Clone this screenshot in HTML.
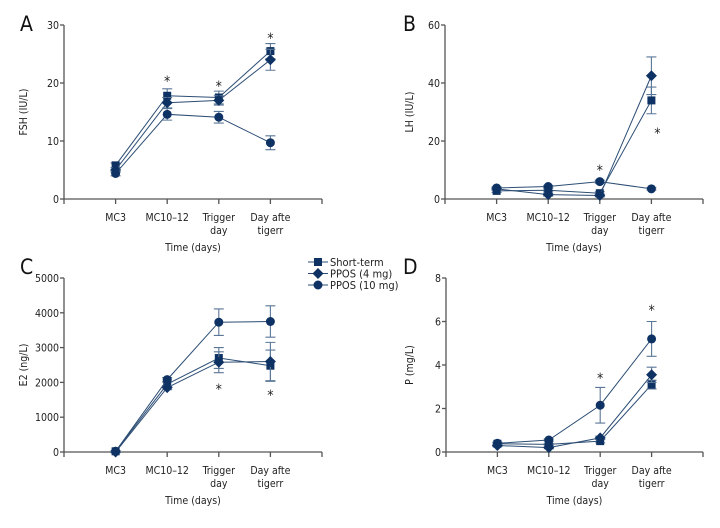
<!DOCTYPE html>
<html><head><meta charset="utf-8"><style>
html,body{margin:0;padding:0;background:#fff;}
svg{display:block;font-family:"Liberation Sans Narrow","DejaVu Sans Condensed","Liberation Sans",sans-serif;}
</style></head><body>
<svg id="fig" width="720" height="528" viewBox="0 0 720 528" xmlns="http://www.w3.org/2000/svg"></svg>
<script>
const categories = ["MC3", "MC10\u201312", "Trigger|day", "Day afte|tigerr"];
const seriesNames = ["Short-term", "PPOS (4 mg)", "PPOS (10 mg)"];
const fshShort = [5.8, 17.8, 17.5, 25.5];
const fshShortErr = [0.4, 1.2, 1.1, 1.3];
const fsh4 = [5.0, 16.6, 17.0, 24.0];
const fsh4Err = [0.4, 0.9, 0.8, 1.8];
const fsh10 = [4.4, 14.6, 14.1, 9.7];
const fsh10Err = [0.4, 1.0, 1.0, 1.2];
const fshStars = [null, 20.9, 20.0, 28.3];
const lhShort = [2.8, 3.0, 2.0, 34.0];
const lhShortErr = [0.5, 0.5, 0.5, 4.6];
const lh4 = [3.5, 1.5, 1.2, 42.5];
const lh4Err = [0.5, 0.5, 0.5, 6.5];
const lh10 = [3.8, 4.3, 6.0, 3.5];
const lh10Err = [0.4, 0.4, 0.5, 0.4];
const lhStars = [null, null, 11.0, 23.8];
const e2Short = [20, 1950, 2700, 2480];
const e2ShortErr = [20, 60, 300, 450];
const e24 = [0, 1850, 2580, 2600];
const e24Err = [20, 60, 300, 550];
const e210 = [20, 2080, 3730, 3750];
const e210Err = [20, 60, 380, 450];
const e2Stars = [null, null, 1900, 1730];
const pShort = [0.38, 0.35, 0.5, 3.1];
const pShortErr = [0.05, 0.05, 0.08, 0.2];
const p4 = [0.3, 0.2, 0.65, 3.55];
const p4Err = [0.05, 0.05, 0.08, 0.35];
const p10 = [0.4, 0.55, 2.15, 5.2];
const p10Err = [0.05, 0.05, 0.82, 0.8];
const pStars = [null, null, 3.55, 6.67];
const fshTicks = [0, 10, 20, 30];
const lhTicks = [0, 20, 40, 60];
const e2Ticks = [0, 1000, 2000, 3000, 4000, 5000];
const pTicks = [0, 2, 4, 6, 8];

const NS = "http://www.w3.org/2000/svg";
const svg = document.getElementById("fig");
const NAVY = "#0e3263", LINE = "#2c4d74", ERR = "#5b7797", AX = "#555";
function mk(tag, attrs, parent) {
  const e = document.createElementNS(NS, tag);
  for (const k in attrs) e.setAttribute(k, attrs[k]);
  (parent || svg).appendChild(e);
  return e;
}
function marker(g, shape, x, y, s) {
  if (shape === 0) return mk("rect", {x: x - s, y: y - s, width: 2 * s, height: 2 * s, fill: NAVY}, g);
  if (shape === 1) return mk("polygon", {points: `${x},${y - s - 1.5} ${x + s + 1.5},${y} ${x},${y + s + 1.5} ${x - s - 1.5},${y}`, fill: NAVY}, g);
  return mk("circle", {cx: x, cy: y, r: s + 0.5, fill: NAVY}, g);
}
function panel(p) {
  const g = mk("g", {});
  
  
  const ymax = p.ticks[p.ticks.length - 1];
  const xS = i => p.x0 + (i + 1) * (p.x1 - p.x0) / 5;
  const yS = v => p.y0 - v / ymax * (p.y0 - p.yTop);
  const L = mk("text", {x: p.lx, y: p.ly, "font-size": 21, fill: "#111"}, g);
  L.textContent = p.letter;
  
  
  const ax = mk("g", {stroke: AX, "stroke-width": 1.3}, g);
  
  
  mk("line", {x1: p.x0, y1: p.y0, x2: p.x0, y2: p.yTop}, ax);
  mk("line", {x1: p.x0, y1: p.y0, x2: p.x1, y2: p.y0}, ax);
  for (let i = 0; i <= 5; i++) { const x = p.x0 + i * (p.x1 - p.x0) / 5; mk("line", {x1: x, y1: p.y0, x2: x, y2: p.y0 + 5}, ax); }
  p.ticks.forEach(t => {
    const y = yS(t);
    mk("line", {x1: p.x0 - 4, y1: y, x2: p.x0, y2: y}, ax);
    const tx = mk("text", {x: p.x0 - 5, y: y + 4, "font-size": 10.5, "text-anchor": "end", fill: "#222"}, g);
    tx.textContent = t;
    
    
  });
  categories.forEach((c, i) => {
    const parts = c.split("|");
    parts.forEach((s, j) => {
      const tx = mk("text", {x: xS(i), y: p.y0 + 22 + j * 13, "font-size": 10.5, "text-anchor": "middle", fill: "#222"}, g);
      tx.textContent = s;
      
      
    });
  });
  const xt = mk("text", {x: (p.x0 + p.x1) / 2, y: p.y0 + 52, "font-size": 10.5, "text-anchor": "middle", fill: "#222"}, g);
  xt.textContent = "Time (days)";
  
  
  const yc = (p.y0 + p.yTop) / 2;
  const yt = mk("text", {x: p.ytx, y: yc, "font-size": 10.5, "text-anchor": "middle", fill: "#222", transform: `rotate(-90 ${p.ytx} ${yc})`}, g);
  yt.textContent = p.ytitle;
  
  
  p.series.forEach((s, k) => {
    const sg = mk("g", {}, g);
    
    
    mk("polyline", {points: s.v.map((v, i) => xS(i) + "," + yS(v)).join(" "), fill: "none", stroke: LINE, "stroke-width": 1}, sg);
    s.v.forEach((v, i) => {
      const x = xS(i), e = s.e[i];
      const eb = mk("path", {d: `M${x},${yS(v - e)}V${yS(v + e)}M${x - 5},${yS(v - e)}H${x + 5}M${x - 5},${yS(v + e)}H${x + 5}`, stroke: ERR, "stroke-width": 1.1, fill: "none"}, sg);
      
      
      const m = marker(sg, k, x, yS(v), 4);
      
      
    });
  });
  p.stars.forEach((v, i) => {
    if (v === null) return;
    const dx = (p.starDx && p.starDx[i]) || 0;
    const st = mk("text", {x: xS(i) + dx, y: yS(v) + 8, "font-size": 14, "text-anchor": "middle", fill: "#222"}, g);
    st.textContent = "*";
    
    
  });
}
panel({name: "panel-a-fsh", letter: "A", lx: 20, ly: 31, x0: 64, x1: 322, y0: 199, yTop: 25, ytx: 27, ytitle: "FSH (IU/L)", ticks: fshTicks,
  series: [{v: fshShort, e: fshShortErr}, {v: fsh4, e: fsh4Err}, {v: fsh10, e: fsh10Err}], stars: fshStars});
panel({name: "panel-b-lh", letter: "B", lx: 403, ly: 31, x0: 445, x1: 703, y0: 199, yTop: 25, ytx: 413, ytitle: "LH (IU/L)", ticks: lhTicks,
  series: [{v: lhShort, e: lhShortErr}, {v: lh4, e: lh4Err}, {v: lh10, e: lh10Err}], stars: lhStars, starDx: [0, 0, 0, 6]});
panel({name: "panel-c-e2", letter: "C", lx: 20, ly: 274, x0: 64, x1: 322, y0: 452, yTop: 278, ytx: 27, ytitle: "E2 (ng/L)", ticks: e2Ticks,
  series: [{v: e2Short, e: e2ShortErr}, {v: e24, e: e24Err}, {v: e210, e: e210Err}], stars: e2Stars});
panel({name: "panel-d-p", letter: "D", lx: 403, ly: 274, x0: 446, x1: 703, y0: 452, yTop: 278, ytx: 413, ytitle: "P (mg/L)", ticks: pTicks,
  series: [{v: pShort, e: pShortErr}, {v: p4, e: p4Err}, {v: p10, e: p10Err}], stars: pStars});
const lg = mk("g", {});


seriesNames.forEach((n, k) => {
  const y = 262 + k * 11.5;
  const eg = mk("g", {}, lg);
  
  
  mk("line", {x1: 308, y1: y, x2: 328, y2: y, stroke: LINE, "stroke-width": 1}, eg);
  marker(eg, k, 318, y, 4);
  const t = mk("text", {x: 330, y: y + 4, "font-size": 11, fill: "#222"}, eg);
  t.textContent = n;
});
</script>
</body></html>
